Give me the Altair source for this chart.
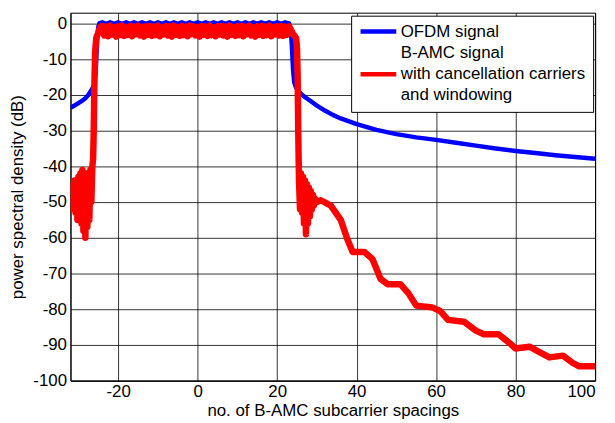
import altair as alt
import pandas as pd

# ---- axis ticks ----
x_ticks = [-20, 0, 20, 40, 60, 80, 100]
y_ticks = [-100, -90, -80, -70, -60, -50, -40, -30, -20, -10, 0]

# legend rows: the red series sits on the middle line of its 3-line label
ofdm_name = "OFDM signal"
bamc_name = "B-AMC signal with cancellation carriers and windowing"
legend_domain = [ofdm_name, "B-AMC signal", bamc_name, "and windowing"]
legend_colors = ["#0000ff", "transparent", "#ff0000", "transparent"]

# ---- OFDM signal (blue) ----
blue_x = [-32, -31, -30, -29, -28.3, -27.5, -26.7, -26.0, -25.6, -25.3, -25.0, -24.7,
          -24, -23, -22, -21, -20, -19, -18, -17, -16, -15, -14, -13, -12, -11, -10,
          -9, -8, -7, -6, -5, -4, -3, -2, -1, 0, 1, 2, 3, 4, 5, 6, 7, 8, 9, 10,
          11, 12, 13, 14, 15, 16, 17, 18, 19, 20, 21, 22, 23,
          23.4, 23.7, 24.0, 24.3, 24.7, 25.2, 25.7, 26.5, 27.5, 28.5, 30, 32, 34, 36,
          40, 45, 50, 55, 60, 65, 70, 75, 80, 85, 90, 95, 100]
blue_db = [-23.6, -23.0, -22.3, -21.6, -21.0, -20.0, -18.6, -17.3, -12.0, -5.0, -1.0, 0.1,
           0.3, -0.1, 0.3, -0.1, 0.3, -0.1, 0.3, -0.1, 0.3, -0.1, 0.3, -0.1, 0.3, -0.1, 0.3,
           -0.1, 0.3, -0.1, 0.3, -0.1, 0.3, -0.1, 0.3, -0.1, 0.3, -0.1, 0.3, -0.1, 0.3, -0.1, 0.3, -0.1, 0.3, -0.1, 0.3,
           -0.1, 0.3, -0.1, 0.3, -0.1, 0.3, -0.1, 0.3, -0.1, 0.3, -0.1, 0.3, 0.0,
           -1.5, -6.0, -13.0, -16.5, -17.8, -18.8, -19.4, -20.2, -21.0, -21.8, -23.0, -24.4, -25.6, -26.6,
           -28.2, -29.8, -31.0, -31.9, -32.6, -33.4, -34.2, -35.0, -35.7, -36.3, -36.9, -37.4, -37.9]

# ---- B-AMC signal with cancellation carriers and windowing (red) ----
red_left_x = [-32, -31.75, -31.5, -31.25, -31, -30.75, -30.5, -30.25, -30, -29.75, -29.5, -29.25,
              -29, -28.75, -28.5, -28.25, -28, -27.75, -27.5, -27.25, -27, -26.75, -26.5, -26.3,
              -26.15, -26.0, -25.8, -25.5, -25.2, -24.8, -24.4]
red_left_db = [-47, -51, -45, -52, -44, -53, -45, -55, -43, -54, -42, -56,
               -41, -58, -43, -60, -42, -57, -44, -55, -41, -50, -40, -38,
               -30, -18, -8, -4.0, -3.2, -1.8, -0.8]

red_mid_x = [-24, -23.5, -23, -22.5, -22, -21.5, -21, -20.5, -20, -19.5,
             -19, -18.5, -18, -17.5, -17, -16.5, -16, -15.5, -15, -14.5,
             -14, -13.5, -13, -12.5, -12, -11.5, -11, -10.5, -10, -9.5,
             -9, -8.5, -8, -7.5, -7, -6.5, -6, -5.5, -5, -4.5,
             -4, -3.5, -3, -2.5, -2, -1.5, -1, -0.5, 0, 0.5,
             1, 1.5, 2, 2.5, 3, 3.5, 4, 4.5, 5, 5.5,
             6, 6.5, 7, 7.5, 8, 8.5, 9, 9.5, 10, 10.5,
             11, 11.5, 12, 12.5, 13, 13.5, 14, 14.5, 15, 15.5,
             16, 16.5, 17, 17.5, 18, 18.5, 19, 19.5, 20, 20.5,
             21, 21.5, 22, 22.5, 23]
red_mid_db = [-0.7, -3.4, -0.9, -3.6, -0.6, -3.1, -1.0, -3.7, -0.8, -3.3,
              -0.6, -3.5, -1.1, -3.2, -0.7, -3.6, -0.9, -3.0, -0.6, -3.4,
              -1.0, -3.7, -0.8, -3.2, -0.7, -3.5, -0.9, -3.3, -0.6, -3.6,
              -1.1, -3.1, -0.7, -3.4, -0.8, -3.7, -0.6, -3.2, -1.0, -3.5,
              -0.7, -3.3, -0.9, -3.6, -0.6, -3.0, -0.8, -3.4, -1.0, -3.7,
              -0.7, -3.2, -0.9, -3.5, -0.6, -3.3, -1.1, -3.6, -0.8, -3.1,
              -0.7, -3.4, -0.9, -3.7, -0.6, -3.2, -1.0, -3.5, -0.8, -3.3,
              -0.7, -3.6, -0.9, -3.0, -0.6, -3.4, -1.1, -3.7, -0.8, -3.2,
              -0.7, -3.5, -0.9, -3.3, -0.6, -3.6, -1.0, -3.1, -0.8, -3.4,
              -0.7, -3.5, -0.9, -3.2, -0.8]

red_right_x = [23.5, 24.0, 24.5, 24.8, 25.0, 25.15, 25.3, 25.5, 25.75, 26.0, 26.25, 26.5, 26.75,
               27.0, 27.25, 27.5, 27.75, 28.0, 28.25, 28.5, 28.75, 29.0, 29.25, 29.5, 30.0,
               31.0, 33.5, 36.0, 37.7, 39.0, 42.0, 44.0, 46.0, 47.8, 51.0, 53.0, 55.0, 59.0,
               61.0, 63.0, 67.0, 70.0, 72.0, 75.7, 78.5, 80.0, 83.5, 86.0, 88.5, 91.9, 94.3,
               96.0, 100]
red_right_db = [-1.8, -3.0, -3.6, -4.2, -7.0, -14.0, -30.0, -44.0, -52.0, -42, -53, -43, -56,
                -44, -59, -45, -56, -46, -54, -47, -52, -48, -51, -49, -50,
                -49.5, -51.0, -55.0, -60.5, -64.0, -64.0, -66.0, -71.5, -73.0, -73.0, -75.5, -79.0, -79.5,
                -80.5, -83.0, -83.5, -86.0, -87.0, -87.0, -89.5, -91.0, -90.5, -92.0, -93.5, -93.0, -95.0,
                -96.0, -96.0]

blue_df = pd.DataFrame({"x": blue_x, "db": blue_db, "series": ofdm_name})
red_df = pd.DataFrame({
    "x": red_left_x + red_mid_x + red_right_x,
    "db": red_left_db + red_mid_db + red_right_db,
    "series": bamc_name,
})

FONT = "Liberation Sans"
FS = 17

color = alt.Color(
    "series:N",
    scale=alt.Scale(domain=legend_domain, range=legend_colors),
    legend=alt.Legend(
        title=None,
        orient="none",
        legendX=283,
        legendY=3,
        symbolType="stroke",
        symbolSize=1296,
        symbolStrokeWidth=4.5,
        clipHeight=18,
        labelFont=FONT,
        labelFontSize=FS,
        labelColor="black",
        labelLimit=400,
        labelOffset=2,
        labelExpr=f"datum.label == '{bamc_name}' ? 'with cancellation carriers' : datum.label",
        strokeColor="black",
        fillColor="white",
        padding=7,
        rowPadding=3.5,
        cornerRadius=0,
    ),
)

x = alt.X(
    "x:Q",
    scale=alt.Scale(domain=[-32, 100], nice=False, zero=False),
    axis=alt.Axis(values=x_ticks, title="no. of B-AMC subcarrier spacings",
                  labelExpr="replace(datum.label, '\u2212', '-')"),
)
y = alt.Y(
    "db:Q",
    scale=alt.Scale(domain=[-100, 3], nice=False, zero=False),
    axis=alt.Axis(values=y_ticks, title="power spectral density (dB)",
                  labelExpr="replace(datum.label, '\u2212', '-')"),
)

blue = alt.Chart(blue_df).mark_line(strokeWidth=4.5, clip=True, strokeJoin="round").encode(
    x=x, y=y, color=color
)
red = alt.Chart(red_df).mark_line(strokeWidth=6.5, clip=True, strokeJoin="round").encode(
    x=x, y=y, color=color
)

chart = (
    alt.layer(blue, red)
    .properties(
        width=529,
        height=371,
        autosize=alt.AutoSizeParams(type="none"),
        padding={"left": 63, "top": 3, "right": 12, "bottom": 44},
        background="white",
    )
    .configure_view(stroke="black", strokeWidth=1)
    .configure_axis(
        labelFont=FONT,
        labelFontSize=FS,
        labelColor="black",
        titleFont=FONT,
        titleFontSize=FS,
        titleFontWeight="normal",
        titleColor="black",
        grid=True,
        gridColor="black",
        gridWidth=1,
        gridOpacity=0.8,
        ticks=False,
        domain=True,
        domainColor="black",
    )
    .configure_axisX(labelPadding=3, titlePadding=3)
    .configure_axisY(labelPadding=4, titlePadding=6)
)

chart.save("out.html", embed_options={"renderer": "svg", "actions": False})
